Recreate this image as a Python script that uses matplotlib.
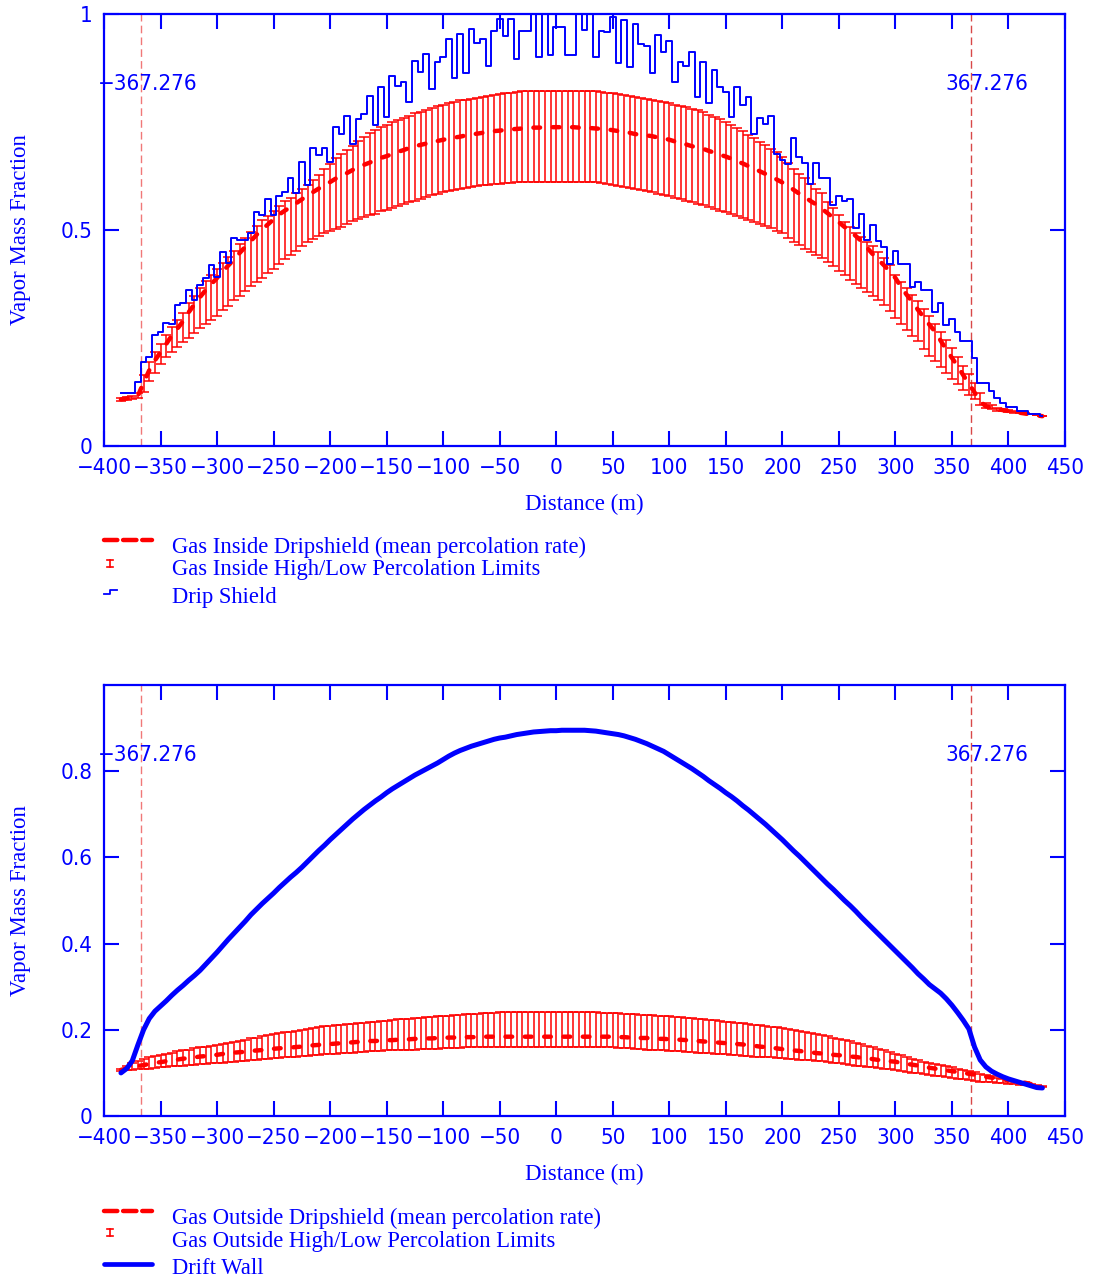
import numpy as np
import matplotlib
matplotlib.use("Agg")
import matplotlib.pyplot as plt
from matplotlib.lines import Line2D

# ---------------- data ----------------
distance = np.arange(-385, 435, 5)  # m, 164 stations

top_mean = [
    0.108, 0.110, 0.112, 0.116, 0.147, 0.175, 0.198, 0.217, 0.236, 0.256,
    0.272, 0.289, 0.310, 0.328, 0.345, 0.361, 0.375, 0.389, 0.404, 0.418,
    0.432, 0.447, 0.461, 0.475, 0.489, 0.502, 0.513, 0.525, 0.536, 0.545,
    0.553, 0.562, 0.571, 0.580, 0.588, 0.596, 0.604, 0.611, 0.619, 0.626,
    0.632, 0.639, 0.645, 0.651, 0.656, 0.662, 0.667, 0.671, 0.676, 0.681,
    0.685, 0.690, 0.694, 0.697, 0.700, 0.703, 0.706, 0.709, 0.711, 0.714,
    0.716, 0.719, 0.721, 0.723, 0.725, 0.727, 0.729, 0.730, 0.732, 0.733,
    0.734, 0.735, 0.736, 0.737, 0.737, 0.738, 0.738, 0.738, 0.738, 0.738,
    0.738, 0.737, 0.736, 0.736, 0.735, 0.734, 0.733, 0.731, 0.729, 0.727,
    0.725, 0.722, 0.720, 0.719, 0.717, 0.714, 0.712, 0.709, 0.705, 0.701,
    0.698, 0.694, 0.691, 0.688, 0.683, 0.679, 0.674, 0.670, 0.665, 0.659,
    0.654, 0.648, 0.642, 0.636, 0.630, 0.624, 0.617, 0.610, 0.602, 0.593,
    0.584, 0.576, 0.567, 0.559, 0.549, 0.539, 0.528, 0.518, 0.507, 0.497,
    0.486, 0.474, 0.459, 0.444, 0.431, 0.418, 0.404, 0.389, 0.368, 0.350,
    0.333, 0.315, 0.298, 0.281, 0.265, 0.244, 0.223, 0.204, 0.185, 0.164,
    0.144, 0.124, 0.103, 0.092, 0.089, 0.086, 0.083, 0.081, 0.079, 0.077,
    0.075, 0.073, 0.071, 0.069]

top_high = [
    0.112, 0.114, 0.116, 0.122, 0.165, 0.195, 0.218, 0.237, 0.256, 0.276,
    0.292, 0.309, 0.330, 0.348, 0.365, 0.381, 0.395, 0.409, 0.424, 0.438,
    0.452, 0.467, 0.481, 0.495, 0.509, 0.522, 0.533, 0.545, 0.556, 0.566,
    0.575, 0.585, 0.595, 0.605, 0.616, 0.628, 0.641, 0.653, 0.666, 0.677,
    0.686, 0.695, 0.705, 0.716, 0.724, 0.732, 0.738, 0.744, 0.749, 0.754,
    0.759, 0.765, 0.770, 0.774, 0.778, 0.782, 0.786, 0.790, 0.793, 0.797,
    0.800, 0.802, 0.804, 0.806, 0.808, 0.810, 0.812, 0.814, 0.816, 0.818,
    0.820, 0.821, 0.821, 0.821, 0.821, 0.821, 0.821, 0.821, 0.821, 0.821,
    0.821, 0.821, 0.821, 0.821, 0.821, 0.820, 0.818, 0.816, 0.814, 0.812,
    0.810, 0.808, 0.805, 0.803, 0.801, 0.799, 0.796, 0.793, 0.790, 0.787,
    0.784, 0.781, 0.777, 0.772, 0.767, 0.762, 0.756, 0.749, 0.742, 0.736,
    0.729, 0.721, 0.712, 0.703, 0.696, 0.688, 0.680, 0.668, 0.655, 0.642,
    0.630, 0.620, 0.607, 0.596, 0.585, 0.565, 0.550, 0.535, 0.519, 0.506,
    0.494, 0.484, 0.473, 0.462, 0.449, 0.436, 0.420, 0.395, 0.379, 0.365,
    0.350, 0.335, 0.317, 0.300, 0.283, 0.264, 0.245, 0.226, 0.207, 0.186,
    0.166, 0.146, 0.122, 0.100, 0.094, 0.089, 0.086, 0.083, 0.081, 0.079,
    0.077, 0.075, 0.072, 0.070]

top_low = [
    0.104, 0.106, 0.108, 0.110, 0.124, 0.150, 0.170, 0.190, 0.205, 0.218,
    0.229, 0.240, 0.251, 0.262, 0.272, 0.282, 0.292, 0.302, 0.314, 0.325,
    0.337, 0.348, 0.359, 0.370, 0.380, 0.390, 0.400, 0.410, 0.421, 0.432,
    0.442, 0.452, 0.462, 0.472, 0.480, 0.487, 0.493, 0.498, 0.503, 0.508,
    0.514, 0.520, 0.525, 0.529, 0.534, 0.538, 0.543, 0.547, 0.552, 0.556,
    0.560, 0.564, 0.568, 0.572, 0.576, 0.580, 0.584, 0.587, 0.590, 0.593,
    0.596, 0.598, 0.600, 0.602, 0.604, 0.605, 0.606, 0.607, 0.608, 0.609,
    0.610, 0.610, 0.610, 0.610, 0.610, 0.610, 0.610, 0.610, 0.610, 0.610,
    0.610, 0.610, 0.610, 0.610, 0.610, 0.609, 0.607, 0.605, 0.603, 0.600,
    0.598, 0.595, 0.593, 0.590, 0.587, 0.584, 0.581, 0.578, 0.575, 0.571,
    0.568, 0.564, 0.560, 0.557, 0.553, 0.549, 0.545, 0.541, 0.536, 0.532,
    0.527, 0.523, 0.518, 0.514, 0.509, 0.504, 0.498, 0.492, 0.482, 0.472,
    0.465, 0.457, 0.450, 0.442, 0.435, 0.427, 0.416, 0.405, 0.395, 0.384,
    0.375, 0.366, 0.357, 0.348, 0.338, 0.327, 0.312, 0.297, 0.283, 0.268,
    0.255, 0.242, 0.225, 0.209, 0.196, 0.182, 0.169, 0.156, 0.143, 0.130,
    0.119, 0.108, 0.096, 0.088, 0.085, 0.082, 0.080, 0.079, 0.077, 0.076,
    0.074, 0.073, 0.071, 0.069]

drip_shield = [
    0.122, 0.122, 0.122, 0.149, 0.195, 0.207, 0.257, 0.265, 0.285, 0.282,
    0.326, 0.330, 0.361, 0.338, 0.373, 0.390, 0.419, 0.392, 0.450, 0.423,
    0.482, 0.478, 0.478, 0.494, 0.542, 0.535, 0.571, 0.535, 0.579, 0.589,
    0.620, 0.585, 0.658, 0.604, 0.689, 0.674, 0.689, 0.657, 0.738, 0.722,
    0.765, 0.699, 0.757, 0.769, 0.811, 0.742, 0.830, 0.761, 0.857, 0.834,
    0.842, 0.796, 0.892, 0.865, 0.907, 0.826, 0.888, 0.900, 0.942, 0.853,
    0.954, 0.863, 0.965, 0.934, 0.942, 0.880, 0.961, 0.988, 0.950, 0.988,
    0.896, 0.961, 0.961, 1.000, 0.900, 1.000, 0.904, 0.969, 0.969, 0.904,
    0.904, 1.000, 0.963, 1.000, 0.900, 0.961, 0.958, 0.992, 0.886, 0.985,
    0.878, 0.977, 0.931, 0.927, 0.863, 0.952, 0.911, 0.938, 0.842, 0.888,
    0.880, 0.911, 0.809, 0.890, 0.793, 0.870, 0.830, 0.819, 0.762, 0.832,
    0.790, 0.807, 0.722, 0.759, 0.745, 0.765, 0.676, 0.663, 0.653, 0.712,
    0.668, 0.656, 0.606, 0.656, 0.620, 0.620, 0.558, 0.579, 0.566, 0.571,
    0.504, 0.536, 0.477, 0.512, 0.475, 0.461, 0.421, 0.452, 0.421, 0.421,
    0.369, 0.379, 0.361, 0.361, 0.311, 0.330, 0.280, 0.293, 0.265, 0.242,
    0.242, 0.203, 0.145, 0.145, 0.128, 0.110, 0.099, 0.090, 0.090, 0.082,
    0.082, 0.074, 0.074, 0.070]

bot_mean = [
    0.107, 0.110, 0.113, 0.116, 0.118, 0.121, 0.123, 0.125, 0.127, 0.129,
    0.131, 0.133, 0.134, 0.136, 0.138, 0.139, 0.141, 0.142, 0.144, 0.145,
    0.147, 0.148, 0.149, 0.151, 0.152, 0.153, 0.154, 0.156, 0.157, 0.158,
    0.159, 0.160, 0.161, 0.163, 0.164, 0.165, 0.166, 0.167, 0.168, 0.169,
    0.170, 0.171, 0.172, 0.173, 0.174, 0.174, 0.175, 0.176, 0.176, 0.177,
    0.178, 0.178, 0.179, 0.179, 0.180, 0.180, 0.181, 0.181, 0.182, 0.182,
    0.182, 0.183, 0.183, 0.183, 0.184, 0.184, 0.184, 0.184, 0.184, 0.184,
    0.184, 0.184, 0.184, 0.184, 0.184, 0.184, 0.184, 0.184, 0.184, 0.184,
    0.184, 0.184, 0.184, 0.184, 0.184, 0.184, 0.184, 0.184, 0.183, 0.183,
    0.182, 0.182, 0.181, 0.181, 0.180, 0.179, 0.179, 0.178, 0.177, 0.177,
    0.176, 0.175, 0.174, 0.173, 0.172, 0.171, 0.170, 0.169, 0.168, 0.167,
    0.166, 0.164, 0.163, 0.161, 0.160, 0.158, 0.157, 0.155, 0.154, 0.152,
    0.151, 0.149, 0.148, 0.146, 0.145, 0.144, 0.142, 0.141, 0.140, 0.138,
    0.137, 0.135, 0.134, 0.132, 0.130, 0.129, 0.127, 0.126, 0.123, 0.121,
    0.119, 0.117, 0.114, 0.112, 0.110, 0.108, 0.106, 0.104, 0.102, 0.100,
    0.098, 0.096, 0.093, 0.091, 0.089, 0.087, 0.085, 0.083, 0.081, 0.079,
    0.077, 0.074, 0.072, 0.070]

bot_high = [
    0.110, 0.116, 0.122, 0.127, 0.132, 0.136, 0.139, 0.142, 0.145, 0.147,
    0.150, 0.152, 0.154, 0.157, 0.159, 0.161, 0.163, 0.165, 0.168, 0.170,
    0.172, 0.175, 0.177, 0.180, 0.182, 0.185, 0.187, 0.190, 0.192, 0.194,
    0.196, 0.198, 0.200, 0.202, 0.204, 0.206, 0.208, 0.209, 0.210, 0.212,
    0.213, 0.214, 0.215, 0.216, 0.218, 0.219, 0.220, 0.221, 0.222, 0.224,
    0.225, 0.226, 0.227, 0.228, 0.229, 0.230, 0.231, 0.232, 0.233, 0.234,
    0.235, 0.236, 0.236, 0.237, 0.238, 0.239, 0.240, 0.241, 0.241, 0.241,
    0.241, 0.241, 0.241, 0.241, 0.241, 0.241, 0.241, 0.241, 0.241, 0.241,
    0.241, 0.241, 0.241, 0.241, 0.241, 0.240, 0.239, 0.239, 0.238, 0.237,
    0.237, 0.236, 0.235, 0.235, 0.234, 0.233, 0.232, 0.231, 0.230, 0.229,
    0.228, 0.227, 0.225, 0.224, 0.223, 0.222, 0.221, 0.219, 0.218, 0.216,
    0.215, 0.213, 0.212, 0.210, 0.208, 0.207, 0.206, 0.204, 0.202, 0.200,
    0.198, 0.196, 0.193, 0.191, 0.188, 0.185, 0.182, 0.179, 0.176, 0.173,
    0.169, 0.166, 0.162, 0.159, 0.155, 0.152, 0.148, 0.145, 0.141, 0.137,
    0.133, 0.129, 0.126, 0.123, 0.120, 0.118, 0.115, 0.113, 0.110, 0.107,
    0.104, 0.101, 0.097, 0.094, 0.092, 0.089, 0.087, 0.085, 0.082, 0.080,
    0.078, 0.075, 0.072, 0.070]

bot_low = [
    0.105, 0.106, 0.107, 0.108, 0.109, 0.110, 0.111, 0.113, 0.114, 0.115,
    0.116, 0.117, 0.118, 0.119, 0.120, 0.121, 0.122, 0.123, 0.124, 0.125,
    0.126, 0.127, 0.128, 0.130, 0.131, 0.132, 0.133, 0.134, 0.135, 0.136,
    0.137, 0.138, 0.139, 0.140, 0.141, 0.142, 0.143, 0.144, 0.145, 0.146,
    0.147, 0.147, 0.148, 0.149, 0.150, 0.150, 0.151, 0.152, 0.152, 0.153,
    0.153, 0.154, 0.154, 0.155, 0.155, 0.156, 0.156, 0.157, 0.157, 0.158,
    0.158, 0.159, 0.159, 0.159, 0.160, 0.160, 0.160, 0.160, 0.160, 0.160,
    0.160, 0.160, 0.160, 0.160, 0.160, 0.160, 0.160, 0.160, 0.160, 0.160,
    0.160, 0.160, 0.160, 0.160, 0.160, 0.160, 0.159, 0.159, 0.158, 0.158,
    0.157, 0.156, 0.155, 0.154, 0.154, 0.153, 0.152, 0.151, 0.151, 0.150,
    0.149, 0.148, 0.147, 0.146, 0.146, 0.145, 0.144, 0.143, 0.142, 0.141,
    0.140, 0.139, 0.138, 0.138, 0.137, 0.136, 0.135, 0.134, 0.133, 0.132,
    0.131, 0.130, 0.129, 0.128, 0.127, 0.126, 0.124, 0.122, 0.121, 0.119,
    0.117, 0.116, 0.114, 0.113, 0.111, 0.110, 0.108, 0.106, 0.104, 0.102,
    0.100, 0.099, 0.097, 0.095, 0.093, 0.092, 0.090, 0.089, 0.087, 0.085,
    0.084, 0.082, 0.080, 0.079, 0.078, 0.077, 0.076, 0.075, 0.074, 0.073,
    0.072, 0.070, 0.069, 0.068]

drift_wall = [
    0.100, 0.110, 0.128, 0.165, 0.200, 0.226, 0.243, 0.255, 0.267, 0.280,
    0.292, 0.303, 0.315, 0.326, 0.338, 0.352, 0.366, 0.380, 0.395, 0.410,
    0.424, 0.438, 0.452, 0.467, 0.480, 0.493, 0.505, 0.517, 0.530, 0.542,
    0.554, 0.565, 0.577, 0.590, 0.603, 0.616, 0.628, 0.641, 0.653, 0.665,
    0.677, 0.689, 0.700, 0.711, 0.721, 0.731, 0.740, 0.750, 0.759, 0.767,
    0.775, 0.783, 0.791, 0.798, 0.805, 0.812, 0.819, 0.827, 0.835, 0.842,
    0.848, 0.853, 0.858, 0.862, 0.866, 0.870, 0.874, 0.877, 0.879, 0.882,
    0.885, 0.887, 0.889, 0.891, 0.892, 0.893, 0.894, 0.894, 0.895, 0.895,
    0.895, 0.895, 0.895, 0.894, 0.893, 0.891, 0.889, 0.887, 0.885, 0.882,
    0.878, 0.874, 0.869, 0.864, 0.858, 0.852, 0.846, 0.838, 0.830, 0.822,
    0.814, 0.806, 0.797, 0.788, 0.778, 0.769, 0.760, 0.750, 0.741, 0.731,
    0.720, 0.710, 0.699, 0.688, 0.677, 0.665, 0.653, 0.641, 0.628, 0.615,
    0.603, 0.590, 0.577, 0.564, 0.551, 0.538, 0.526, 0.513, 0.500, 0.488,
    0.475, 0.461, 0.448, 0.435, 0.422, 0.409, 0.396, 0.383, 0.370, 0.357,
    0.344, 0.330, 0.318, 0.305, 0.295, 0.285, 0.272, 0.257, 0.240, 0.222,
    0.202, 0.160, 0.130, 0.114, 0.104, 0.097, 0.091, 0.086, 0.082, 0.078,
    0.074, 0.070, 0.066, 0.065]

repository_edge = 367.276
x_ticks = [-400, -350, -300, -250, -200, -150, -100, -50, 0, 50, 100, 150,
           200, 250, 300, 350, 400, 450]
top_yticks = [0, 0.5, 1]
top_ylabels = ["0", "0.5", "1"]
bot_yticks = [0, 0.2, 0.4, 0.6, 0.8]
bot_ylabels = ["0", "0.2", "0.4", "0.6", "0.8"]

top_legend = ["Gas Inside Dripshield (mean percolation rate)",
              "Gas Inside High/Low Percolation Limits",
              "Drip Shield"]
bot_legend = ["Gas Outside Dripshield (mean percolation rate)",
              "Gas Outside High/Low Percolation Limits",
              "Drift Wall"]

# ---------------- styling ----------------
BLUE = "#0000ff"
RED = "#ff0000"
SERIF = ["Liberation Serif", "DejaVu Serif"]
plt.rcParams["font.family"] = ["DejaVu Sans"]
plt.rcParams["font.stretch"] = "condensed"
plt.rcParams["axes.unicode_minus"] = True

W, H = 1094, 1285
fig = plt.figure(figsize=(W / 100, H / 100), dpi=100)


def fx(px):
    return px / W


def fy(py):
    return 1 - py / H


ax1 = fig.add_axes([fx(104), fy(446), (1065 - 104) / W, (446 - 14) / H])
ax2 = fig.add_axes([fx(104), fy(1116), (1065 - 104) / W, (1116 - 685) / H])

mean_dash = (0, (1.5, 2.85))
TICK_SIZE = 16


def style_axes(ax, yticks, ylabels):
    ax.set_xlim(-400, 450)
    ax.set_ylim(0, 1)
    ax.set_xticks(x_ticks)
    ax.set_yticks(yticks)
    ax.set_yticklabels(ylabels)
    for sp in ax.spines.values():
        sp.set_color(BLUE)
        sp.set_linewidth(1.6)
    ax.tick_params(direction="in", length=11, width=1.5, color=BLUE,
                   labelcolor=BLUE, top=True, right=True,
                   labelsize=TICK_SIZE)
    ax.tick_params(axis="x", pad=9)
    ax.tick_params(axis="y", pad=8)
    ax.set_xlabel("Distance (m)", family=SERIF, stretch="normal",
                  fontsize=16.5, color=BLUE, labelpad=11)
    ax.set_ylabel("Vapor Mass Fraction", family=SERIF, stretch="normal",
                  fontsize=16.5, color=BLUE, va="center")
    ax.yaxis.set_label_coords(-0.087, 0.5)
    # repository edge markers
    ax.axvline(-repository_edge, color="#f07878", lw=1.0, ls=(0, (5.5, 3)),
               zorder=1)
    ax.axvline(repository_edge, color="#d84848", lw=1.0, ls=(0, (5.5, 3)),
               zorder=1)
    ax.annotate("\u2212367.276", xy=(-repository_edge, 0.838),
                xycoords=("data", "axes fraction"), xytext=(4.5, 0),
                textcoords="offset points", ha="center", va="center",
                fontsize=TICK_SIZE, color=BLUE)
    ax.annotate("367.276", xy=(repository_edge, 0.838),
                xycoords=("data", "axes fraction"), xytext=(11, 0),
                textcoords="offset points", ha="center", va="center",
                fontsize=TICK_SIZE, color=BLUE)


def band(ax, mean, low, high):
    mean = np.asarray(mean)
    low = np.asarray(low)
    high = np.asarray(high)
    ax.errorbar(distance, mean, yerr=[mean - low, high - mean], fmt="none",
                ecolor=RED, elinewidth=1.1, capsize=3.4, capthick=1.1,
                zorder=2)
    ax.plot(distance, mean, color=RED, lw=3.2, linestyle=mean_dash,
            dash_capstyle="round", zorder=3)


# top panel
style_axes(ax1, top_yticks, top_ylabels)
band(ax1, top_mean, top_low, top_high)
ax1.plot(distance, drip_shield, drawstyle="steps-mid", color=BLUE, lw=1.4,
         zorder=4)

# bottom panel
style_axes(ax2, bot_yticks, bot_ylabels)
band(ax2, bot_mean, bot_low, bot_high)
ax2.plot(distance, drift_wall, color=BLUE, lw=3.6, solid_capstyle="round",
         zorder=4)


# ---------------- legends (drawn manually) ----------------
def legend_block(rows_y, text_y, labels, last_kind):
    # row 1: dashed red line
    fig.add_artist(Line2D([fx(104), fx(152)], [fy(rows_y[0])] * 2,
                          color=RED, lw=3.2, linestyle=(0, (3.0, 1.3)),
                          dash_capstyle="round"))
    # row 2: small error bar glyph
    xc, y0, y1 = 110, rows_y[1] - 3.5, rows_y[1] + 3.5
    fig.add_artist(Line2D([fx(xc), fx(xc)], [fy(y0), fy(y1)], color=RED,
                          lw=1.2))
    for yy in (y0, y1):
        fig.add_artist(Line2D([fx(xc - 3), fx(xc + 3)], [fy(yy)] * 2,
                              color=RED, lw=1.2))
    # row 3
    if last_kind == "step":
        yb = rows_y[2]
        fig.add_artist(Line2D([fx(104), fx(110), fx(110), fx(117)],
                              [fy(yb + 2), fy(yb + 2), fy(yb - 2), fy(yb - 2)],
                              color=BLUE, lw=1.3))
    else:
        fig.add_artist(Line2D([fx(104), fx(152)], [fy(rows_y[2])] * 2,
                              color=BLUE, lw=3.4, solid_capstyle="round"))
    for ty, lab in zip(text_y, labels):
        fig.text(fx(172), fy(ty), lab, family=SERIF, stretch="normal",
                 fontsize=16.3, color=BLUE, ha="left", va="center")


legend_block([540, 563, 592], [547, 570, 598], top_legend, "step")
legend_block([1211, 1232, 1264], [1218, 1241, 1269], bot_legend, "line")

fig.savefig("out.png", dpi=100)
